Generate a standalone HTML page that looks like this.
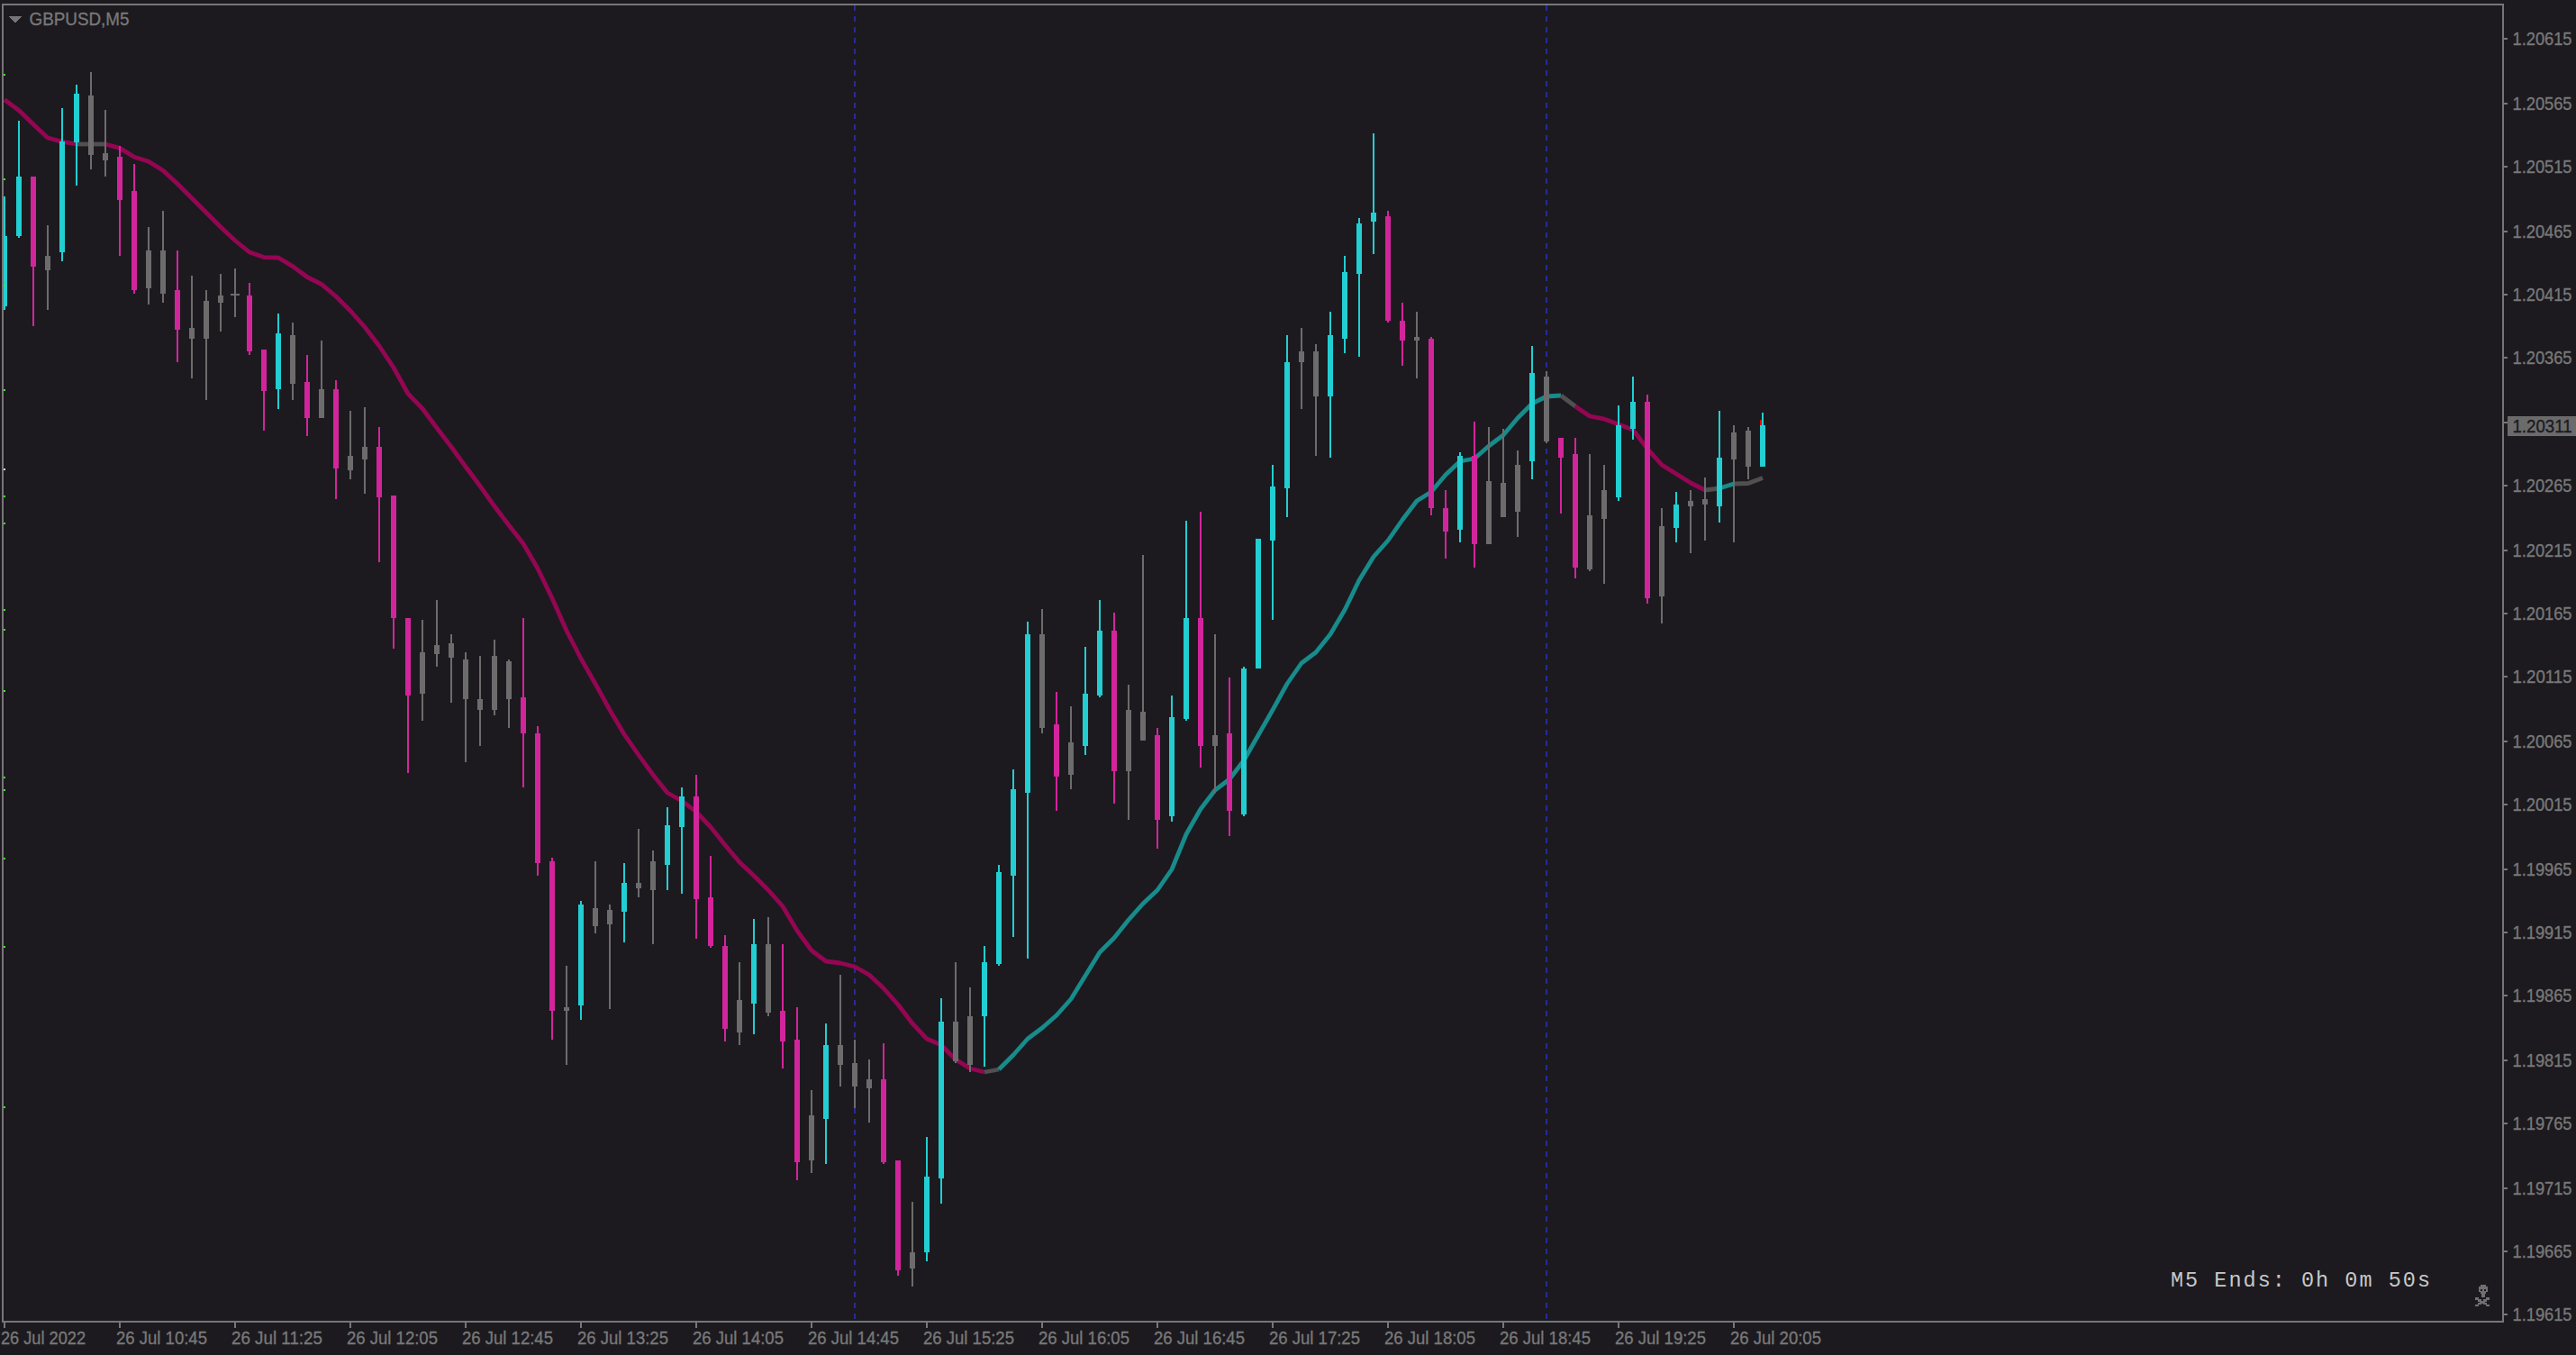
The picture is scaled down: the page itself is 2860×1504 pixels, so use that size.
<!DOCTYPE html><html><head><meta charset="utf-8"><title>GBPUSD,M5</title>
<style>html,body{margin:0;padding:0;background:#1C1A1F;overflow:hidden}svg{display:block}text{font-family:"Liberation Sans",sans-serif;font-size:20px;fill:#787878;stroke:#787878;stroke-width:0.35px}.mono{font-family:"Liberation Mono",monospace;font-size:23.5px;fill:#C8C8C8;stroke:none}</style></head><body>
<svg width="2860" height="1504" viewBox="0 0 2860 1504">
<rect width="2860" height="1504" fill="#1C1A1F"/>
<defs><clipPath id="cp"><rect x="4" y="6" width="2774" height="1460"/></clipPath></defs>
<g clip-path="url(#cp)" shape-rendering="crispEdges">
<line x1="949" y1="6" x2="949" y2="1466" stroke="#262B96" stroke-width="2" stroke-dasharray="6 6"/>
<line x1="1717" y1="6" x2="1717" y2="1466" stroke="#262B96" stroke-width="2" stroke-dasharray="6 6"/>
</g>
<g clip-path="url(#cp)" fill="none" stroke-width="4.8" stroke-linejoin="round" stroke-linecap="butt">
<polyline points="5,110.7 21,122.5 37,138.0 53,153.0 69,157.4 85,160.0" stroke="#940652"/>
<polyline points="85,160.0 101,160.0 117,160.0" stroke="#505050"/>
<polyline points="117,160.0 133,164.4 149,174.3 165,179.3 181,189.2 197,204.0 213,220.0 229,236.0 245,252.0 261,267.0 277,280.0 293,285.6 309,286.0 325,295.6 341,307.5 357,315.5 373,329.0 389,345.0 405,363.0 421,384.0 437,408.0 453,437.0 469,453.5 485,475.0 501,496.0 517,518.0 533,539.5 549,562.0 565,583.0 581,603.5 597,631.0 613,664.0 629,700.0 645,731.0 661,759.0 677,788.0 693,815.0 709,838.0 725,860.0 741,880.0 757,889.0 773,901.0 789,918.0 805,938.0 821,957.0 837,972.0 853,988.0 869,1006.0 885,1033.0 901,1055.0 917,1067.0 933,1069.0 949,1073.0 965,1082.0 981,1097.0 997,1115.0 1013,1136.0 1029,1153.0 1045,1160.0 1061,1176.0 1077,1186.0 1093,1190.0" stroke="#940652"/>
<polyline points="1093,1190.0 1109,1187.0" stroke="#505050"/>
<polyline points="1109,1187.0 1125,1171.0 1141,1153.0 1157,1141.0 1173,1127.0 1189,1109.0 1205,1083.0 1221,1057.0 1237,1041.0 1253,1021.0 1269,1003.0 1285,988.0 1301,965.0 1317,926.0 1333,898.0 1349,877.0 1365,865.0 1381,844.0 1397,816.0 1413,788.0 1429,759.0 1445,736.0 1461,724.0 1477,704.0 1493,677.0 1509,644.0 1525,618.0 1541,600.0 1557,577.0 1573,556.0 1589,546.0 1605,527.0 1621,512.0 1637,509.0 1653,495.0 1669,483.0 1685,464.0 1701,448.0 1717,440.0 1733,439.0" stroke="#188B8B"/>
<polyline points="1733,439.0 1749,451.0" stroke="#505050"/>
<polyline points="1749,451.0 1765,462.0 1781,465.0 1797,471.0 1813,477.0 1829,498.0 1845,516.0 1861,526.0 1877,536.0 1893,544.0" stroke="#940652"/>
<polyline points="1893,544.0 1909,542.0" stroke="#505050"/>
<polyline points="1909,542.0 1925,537.0" stroke="#188B8B"/>
<polyline points="1925,537.0 1941,536.5 1957,530.5" stroke="#505050"/>
</g>
<g clip-path="url(#cp)" shape-rendering="crispEdges">
<rect x="4" y="218" width="2" height="126" fill="#22CED1"/>
<rect x="2" y="262" width="6" height="78" fill="#22CED1"/>
<rect x="20" y="134" width="2" height="130" fill="#22CED1"/>
<rect x="18" y="196" width="6" height="66" fill="#22CED1"/>
<rect x="36" y="196" width="2" height="166" fill="#D2259B"/>
<rect x="34" y="196" width="6" height="100" fill="#D2259B"/>
<rect x="52" y="250" width="2" height="94" fill="#6C6C6C"/>
<rect x="50" y="284" width="6" height="16" fill="#6C6C6C"/>
<rect x="68" y="120" width="2" height="170" fill="#22CED1"/>
<rect x="66" y="157" width="6" height="123" fill="#22CED1"/>
<rect x="84" y="94" width="2" height="112" fill="#22CED1"/>
<rect x="82" y="104" width="6" height="54" fill="#22CED1"/>
<rect x="100" y="80" width="2" height="108" fill="#6C6C6C"/>
<rect x="98" y="106" width="6" height="66" fill="#6C6C6C"/>
<rect x="116" y="122" width="2" height="74" fill="#6C6C6C"/>
<rect x="114" y="170" width="6" height="8" fill="#6C6C6C"/>
<rect x="132" y="162" width="2" height="122" fill="#D2259B"/>
<rect x="130" y="174" width="6" height="48" fill="#D2259B"/>
<rect x="148" y="182" width="2" height="144" fill="#D2259B"/>
<rect x="146" y="212" width="6" height="110" fill="#D2259B"/>
<rect x="164" y="252" width="2" height="86" fill="#6C6C6C"/>
<rect x="162" y="278" width="6" height="42" fill="#6C6C6C"/>
<rect x="180" y="234" width="2" height="102" fill="#6C6C6C"/>
<rect x="178" y="278" width="6" height="48" fill="#6C6C6C"/>
<rect x="196" y="278" width="2" height="124" fill="#D2259B"/>
<rect x="194" y="322" width="6" height="44" fill="#D2259B"/>
<rect x="212" y="306" width="2" height="114" fill="#6C6C6C"/>
<rect x="210" y="364" width="6" height="12" fill="#6C6C6C"/>
<rect x="228" y="322" width="2" height="122" fill="#6C6C6C"/>
<rect x="226" y="334" width="6" height="42" fill="#6C6C6C"/>
<rect x="244" y="304" width="2" height="64" fill="#6C6C6C"/>
<rect x="242" y="328" width="6" height="8" fill="#6C6C6C"/>
<rect x="260" y="298" width="2" height="54" fill="#6C6C6C"/>
<rect x="256" y="326" width="10" height="2" fill="#6C6C6C"/>
<rect x="276" y="314" width="2" height="80" fill="#D2259B"/>
<rect x="274" y="328" width="6" height="62" fill="#D2259B"/>
<rect x="292" y="388" width="2" height="90" fill="#D2259B"/>
<rect x="290" y="388" width="6" height="46" fill="#D2259B"/>
<rect x="308" y="348" width="2" height="106" fill="#22CED1"/>
<rect x="306" y="370" width="6" height="62" fill="#22CED1"/>
<rect x="324" y="358" width="2" height="86" fill="#6C6C6C"/>
<rect x="322" y="372" width="6" height="54" fill="#6C6C6C"/>
<rect x="340" y="394" width="2" height="90" fill="#D2259B"/>
<rect x="338" y="424" width="6" height="40" fill="#D2259B"/>
<rect x="356" y="378" width="2" height="86" fill="#6C6C6C"/>
<rect x="354" y="432" width="6" height="32" fill="#6C6C6C"/>
<rect x="372" y="422" width="2" height="132" fill="#D2259B"/>
<rect x="370" y="432" width="6" height="88" fill="#D2259B"/>
<rect x="388" y="456" width="2" height="76" fill="#6C6C6C"/>
<rect x="386" y="506" width="6" height="16" fill="#6C6C6C"/>
<rect x="404" y="452" width="2" height="96" fill="#6C6C6C"/>
<rect x="402" y="496" width="6" height="14" fill="#6C6C6C"/>
<rect x="420" y="474" width="2" height="150" fill="#D2259B"/>
<rect x="418" y="496" width="6" height="56" fill="#D2259B"/>
<rect x="436" y="550" width="2" height="170" fill="#D2259B"/>
<rect x="434" y="550" width="6" height="136" fill="#D2259B"/>
<rect x="452" y="686" width="2" height="172" fill="#D2259B"/>
<rect x="450" y="686" width="6" height="86" fill="#D2259B"/>
<rect x="468" y="688" width="2" height="112" fill="#6C6C6C"/>
<rect x="466" y="724" width="6" height="46" fill="#6C6C6C"/>
<rect x="484" y="666" width="2" height="74" fill="#6C6C6C"/>
<rect x="482" y="716" width="6" height="10" fill="#6C6C6C"/>
<rect x="500" y="704" width="2" height="76" fill="#6C6C6C"/>
<rect x="498" y="714" width="6" height="16" fill="#6C6C6C"/>
<rect x="516" y="724" width="2" height="122" fill="#6C6C6C"/>
<rect x="514" y="732" width="6" height="44" fill="#6C6C6C"/>
<rect x="532" y="728" width="2" height="100" fill="#6C6C6C"/>
<rect x="530" y="776" width="6" height="12" fill="#6C6C6C"/>
<rect x="548" y="710" width="2" height="84" fill="#6C6C6C"/>
<rect x="546" y="728" width="6" height="60" fill="#6C6C6C"/>
<rect x="564" y="732" width="2" height="76" fill="#6C6C6C"/>
<rect x="562" y="734" width="6" height="42" fill="#6C6C6C"/>
<rect x="580" y="686" width="2" height="188" fill="#D2259B"/>
<rect x="578" y="774" width="6" height="40" fill="#D2259B"/>
<rect x="596" y="806" width="2" height="166" fill="#D2259B"/>
<rect x="594" y="814" width="6" height="144" fill="#D2259B"/>
<rect x="612" y="952" width="2" height="202" fill="#D2259B"/>
<rect x="610" y="956" width="6" height="166" fill="#D2259B"/>
<rect x="628" y="1072" width="2" height="110" fill="#6C6C6C"/>
<rect x="626" y="1118" width="6" height="4" fill="#6C6C6C"/>
<rect x="644" y="1000" width="2" height="132" fill="#22CED1"/>
<rect x="642" y="1004" width="6" height="112" fill="#22CED1"/>
<rect x="660" y="956" width="2" height="80" fill="#6C6C6C"/>
<rect x="658" y="1008" width="6" height="20" fill="#6C6C6C"/>
<rect x="676" y="1004" width="2" height="116" fill="#6C6C6C"/>
<rect x="674" y="1010" width="6" height="16" fill="#6C6C6C"/>
<rect x="692" y="958" width="2" height="88" fill="#22CED1"/>
<rect x="690" y="980" width="6" height="32" fill="#22CED1"/>
<rect x="708" y="920" width="2" height="76" fill="#6C6C6C"/>
<rect x="706" y="980" width="6" height="6" fill="#6C6C6C"/>
<rect x="724" y="944" width="2" height="104" fill="#6C6C6C"/>
<rect x="722" y="956" width="6" height="32" fill="#6C6C6C"/>
<rect x="740" y="896" width="2" height="92" fill="#22CED1"/>
<rect x="738" y="916" width="6" height="44" fill="#22CED1"/>
<rect x="756" y="874" width="2" height="118" fill="#22CED1"/>
<rect x="754" y="884" width="6" height="34" fill="#22CED1"/>
<rect x="772" y="860" width="2" height="182" fill="#D2259B"/>
<rect x="770" y="884" width="6" height="114" fill="#D2259B"/>
<rect x="788" y="950" width="2" height="102" fill="#D2259B"/>
<rect x="786" y="996" width="6" height="54" fill="#D2259B"/>
<rect x="804" y="1038" width="2" height="118" fill="#D2259B"/>
<rect x="802" y="1050" width="6" height="92" fill="#D2259B"/>
<rect x="820" y="1068" width="2" height="92" fill="#6C6C6C"/>
<rect x="818" y="1110" width="6" height="36" fill="#6C6C6C"/>
<rect x="836" y="1020" width="2" height="128" fill="#22CED1"/>
<rect x="834" y="1048" width="6" height="66" fill="#22CED1"/>
<rect x="852" y="1018" width="2" height="110" fill="#6C6C6C"/>
<rect x="850" y="1048" width="6" height="76" fill="#6C6C6C"/>
<rect x="868" y="1048" width="2" height="138" fill="#D2259B"/>
<rect x="866" y="1122" width="6" height="34" fill="#D2259B"/>
<rect x="884" y="1118" width="2" height="192" fill="#D2259B"/>
<rect x="882" y="1154" width="6" height="136" fill="#D2259B"/>
<rect x="900" y="1210" width="2" height="92" fill="#6C6C6C"/>
<rect x="898" y="1238" width="6" height="50" fill="#6C6C6C"/>
<rect x="916" y="1136" width="2" height="156" fill="#22CED1"/>
<rect x="914" y="1160" width="6" height="82" fill="#22CED1"/>
<rect x="932" y="1082" width="2" height="124" fill="#6C6C6C"/>
<rect x="930" y="1160" width="6" height="22" fill="#6C6C6C"/>
<rect x="948" y="1154" width="2" height="76" fill="#6C6C6C"/>
<rect x="946" y="1180" width="6" height="26" fill="#6C6C6C"/>
<rect x="964" y="1176" width="2" height="70" fill="#6C6C6C"/>
<rect x="962" y="1198" width="6" height="10" fill="#6C6C6C"/>
<rect x="980" y="1158" width="2" height="134" fill="#D2259B"/>
<rect x="978" y="1198" width="6" height="92" fill="#D2259B"/>
<rect x="996" y="1288" width="2" height="128" fill="#D2259B"/>
<rect x="994" y="1288" width="6" height="122" fill="#D2259B"/>
<rect x="1012" y="1334" width="2" height="94" fill="#6C6C6C"/>
<rect x="1010" y="1390" width="6" height="18" fill="#6C6C6C"/>
<rect x="1028" y="1262" width="2" height="138" fill="#22CED1"/>
<rect x="1026" y="1306" width="6" height="84" fill="#22CED1"/>
<rect x="1044" y="1108" width="2" height="228" fill="#22CED1"/>
<rect x="1042" y="1134" width="6" height="174" fill="#22CED1"/>
<rect x="1060" y="1068" width="2" height="112" fill="#6C6C6C"/>
<rect x="1058" y="1134" width="6" height="44" fill="#6C6C6C"/>
<rect x="1076" y="1096" width="2" height="94" fill="#6C6C6C"/>
<rect x="1074" y="1128" width="6" height="54" fill="#6C6C6C"/>
<rect x="1092" y="1050" width="2" height="134" fill="#22CED1"/>
<rect x="1090" y="1068" width="6" height="60" fill="#22CED1"/>
<rect x="1108" y="960" width="2" height="112" fill="#22CED1"/>
<rect x="1106" y="968" width="6" height="102" fill="#22CED1"/>
<rect x="1124" y="854" width="2" height="186" fill="#22CED1"/>
<rect x="1122" y="876" width="6" height="96" fill="#22CED1"/>
<rect x="1140" y="690" width="2" height="374" fill="#22CED1"/>
<rect x="1138" y="704" width="6" height="176" fill="#22CED1"/>
<rect x="1156" y="676" width="2" height="138" fill="#6C6C6C"/>
<rect x="1154" y="704" width="6" height="104" fill="#6C6C6C"/>
<rect x="1172" y="768" width="2" height="132" fill="#D2259B"/>
<rect x="1170" y="804" width="6" height="58" fill="#D2259B"/>
<rect x="1188" y="784" width="2" height="92" fill="#6C6C6C"/>
<rect x="1186" y="824" width="6" height="36" fill="#6C6C6C"/>
<rect x="1204" y="718" width="2" height="120" fill="#22CED1"/>
<rect x="1202" y="770" width="6" height="58" fill="#22CED1"/>
<rect x="1220" y="666" width="2" height="108" fill="#22CED1"/>
<rect x="1218" y="700" width="6" height="72" fill="#22CED1"/>
<rect x="1236" y="680" width="2" height="212" fill="#D2259B"/>
<rect x="1234" y="700" width="6" height="156" fill="#D2259B"/>
<rect x="1252" y="760" width="2" height="150" fill="#6C6C6C"/>
<rect x="1250" y="788" width="6" height="68" fill="#6C6C6C"/>
<rect x="1268" y="616" width="2" height="206" fill="#6C6C6C"/>
<rect x="1266" y="790" width="6" height="32" fill="#6C6C6C"/>
<rect x="1284" y="808" width="2" height="134" fill="#D2259B"/>
<rect x="1282" y="816" width="6" height="94" fill="#D2259B"/>
<rect x="1300" y="772" width="2" height="140" fill="#22CED1"/>
<rect x="1298" y="796" width="6" height="110" fill="#22CED1"/>
<rect x="1316" y="578" width="2" height="222" fill="#22CED1"/>
<rect x="1314" y="686" width="6" height="112" fill="#22CED1"/>
<rect x="1332" y="568" width="2" height="284" fill="#D2259B"/>
<rect x="1330" y="686" width="6" height="142" fill="#D2259B"/>
<rect x="1348" y="704" width="2" height="176" fill="#6C6C6C"/>
<rect x="1346" y="816" width="6" height="12" fill="#6C6C6C"/>
<rect x="1364" y="752" width="2" height="176" fill="#D2259B"/>
<rect x="1362" y="814" width="6" height="86" fill="#D2259B"/>
<rect x="1380" y="740" width="2" height="166" fill="#22CED1"/>
<rect x="1378" y="742" width="6" height="162" fill="#22CED1"/>
<rect x="1396" y="598" width="2" height="144" fill="#22CED1"/>
<rect x="1394" y="598" width="6" height="144" fill="#22CED1"/>
<rect x="1412" y="516" width="2" height="172" fill="#22CED1"/>
<rect x="1410" y="540" width="6" height="60" fill="#22CED1"/>
<rect x="1428" y="372" width="2" height="202" fill="#22CED1"/>
<rect x="1426" y="402" width="6" height="140" fill="#22CED1"/>
<rect x="1444" y="364" width="2" height="90" fill="#6C6C6C"/>
<rect x="1442" y="390" width="6" height="12" fill="#6C6C6C"/>
<rect x="1460" y="382" width="2" height="124" fill="#6C6C6C"/>
<rect x="1458" y="390" width="6" height="50" fill="#6C6C6C"/>
<rect x="1476" y="346" width="2" height="162" fill="#22CED1"/>
<rect x="1474" y="372" width="6" height="68" fill="#22CED1"/>
<rect x="1492" y="284" width="2" height="108" fill="#22CED1"/>
<rect x="1490" y="302" width="6" height="74" fill="#22CED1"/>
<rect x="1508" y="242" width="2" height="154" fill="#22CED1"/>
<rect x="1506" y="248" width="6" height="56" fill="#22CED1"/>
<rect x="1524" y="148" width="2" height="134" fill="#22CED1"/>
<rect x="1522" y="236" width="6" height="10" fill="#22CED1"/>
<rect x="1540" y="234" width="2" height="124" fill="#D2259B"/>
<rect x="1538" y="240" width="6" height="116" fill="#D2259B"/>
<rect x="1556" y="336" width="2" height="70" fill="#D2259B"/>
<rect x="1554" y="356" width="6" height="22" fill="#D2259B"/>
<rect x="1572" y="346" width="2" height="74" fill="#6C6C6C"/>
<rect x="1570" y="374" width="6" height="4" fill="#6C6C6C"/>
<rect x="1588" y="374" width="2" height="198" fill="#D2259B"/>
<rect x="1586" y="376" width="6" height="188" fill="#D2259B"/>
<rect x="1604" y="544" width="2" height="76" fill="#D2259B"/>
<rect x="1602" y="564" width="6" height="26" fill="#D2259B"/>
<rect x="1620" y="502" width="2" height="100" fill="#22CED1"/>
<rect x="1618" y="506" width="6" height="82" fill="#22CED1"/>
<rect x="1636" y="468" width="2" height="162" fill="#D2259B"/>
<rect x="1634" y="506" width="6" height="98" fill="#D2259B"/>
<rect x="1652" y="474" width="2" height="130" fill="#6C6C6C"/>
<rect x="1650" y="534" width="6" height="70" fill="#6C6C6C"/>
<rect x="1668" y="476" width="2" height="98" fill="#6C6C6C"/>
<rect x="1666" y="536" width="6" height="38" fill="#6C6C6C"/>
<rect x="1684" y="500" width="2" height="96" fill="#6C6C6C"/>
<rect x="1682" y="516" width="6" height="52" fill="#6C6C6C"/>
<rect x="1700" y="384" width="2" height="148" fill="#22CED1"/>
<rect x="1698" y="414" width="6" height="98" fill="#22CED1"/>
<rect x="1716" y="412" width="2" height="80" fill="#6C6C6C"/>
<rect x="1714" y="418" width="6" height="72" fill="#6C6C6C"/>
<rect x="1732" y="486" width="2" height="84" fill="#D2259B"/>
<rect x="1730" y="486" width="6" height="22" fill="#D2259B"/>
<rect x="1748" y="486" width="2" height="156" fill="#D2259B"/>
<rect x="1746" y="504" width="6" height="126" fill="#D2259B"/>
<rect x="1764" y="504" width="2" height="130" fill="#6C6C6C"/>
<rect x="1762" y="572" width="6" height="60" fill="#6C6C6C"/>
<rect x="1780" y="516" width="2" height="132" fill="#6C6C6C"/>
<rect x="1778" y="544" width="6" height="32" fill="#6C6C6C"/>
<rect x="1796" y="450" width="2" height="106" fill="#22CED1"/>
<rect x="1794" y="472" width="6" height="80" fill="#22CED1"/>
<rect x="1812" y="418" width="2" height="70" fill="#22CED1"/>
<rect x="1810" y="446" width="6" height="30" fill="#22CED1"/>
<rect x="1828" y="438" width="2" height="232" fill="#D2259B"/>
<rect x="1826" y="446" width="6" height="218" fill="#D2259B"/>
<rect x="1844" y="564" width="2" height="128" fill="#6C6C6C"/>
<rect x="1842" y="584" width="6" height="78" fill="#6C6C6C"/>
<rect x="1860" y="546" width="2" height="56" fill="#22CED1"/>
<rect x="1858" y="560" width="6" height="26" fill="#22CED1"/>
<rect x="1876" y="544" width="2" height="70" fill="#6C6C6C"/>
<rect x="1874" y="556" width="6" height="6" fill="#6C6C6C"/>
<rect x="1892" y="530" width="2" height="70" fill="#6C6C6C"/>
<rect x="1890" y="554" width="6" height="6" fill="#6C6C6C"/>
<rect x="1908" y="456" width="2" height="124" fill="#22CED1"/>
<rect x="1906" y="508" width="6" height="54" fill="#22CED1"/>
<rect x="1924" y="472" width="2" height="130" fill="#6C6C6C"/>
<rect x="1922" y="480" width="6" height="30" fill="#6C6C6C"/>
<rect x="1940" y="474" width="2" height="58" fill="#6C6C6C"/>
<rect x="1938" y="478" width="6" height="40" fill="#6C6C6C"/>
<rect x="1956" y="458" width="2" height="60" fill="#22CED1"/>
<rect x="1954" y="472" width="6" height="46" fill="#22CED1"/>
<rect x="4" y="82" width="2" height="2" fill="#3CF028"/>
<rect x="4" y="198" width="2" height="2" fill="#3CF028"/>
<rect x="4" y="316" width="2" height="2" fill="#3CF028"/>
<rect x="4" y="432" width="2" height="2" fill="#3CF028"/>
<rect x="4" y="550" width="2" height="2" fill="#3CF028"/>
<rect x="4" y="580" width="2" height="2" fill="#3CF028"/>
<rect x="4" y="676" width="2" height="2" fill="#3CF028"/>
<rect x="4" y="698" width="2" height="2" fill="#3CF028"/>
<rect x="4" y="766" width="2" height="2" fill="#3CF028"/>
<rect x="4" y="862" width="2" height="2" fill="#3CF028"/>
<rect x="4" y="876" width="2" height="2" fill="#3CF028"/>
<rect x="4" y="952" width="2" height="2" fill="#3CF028"/>
<rect x="4" y="1050" width="2" height="2" fill="#3CF028"/>
<rect x="4" y="1228" width="2" height="2" fill="#3CF028"/>
<rect x="4" y="520" width="2" height="2" fill="#DDD"/>
<rect x="1954" y="466" width="2" height="6" fill="#FF0000"/>
</g>
<g shape-rendering="crispEdges" fill="#767676">
<rect x="2" y="4" width="2778" height="2"/>
<rect x="2" y="4" width="2" height="1464"/>
<rect x="2" y="1466" width="2778" height="2"/>
<rect x="2778" y="4" width="2" height="1464"/>
<rect x="2780" y="42" width="4" height="2"/>
<rect x="2780" y="114" width="4" height="2"/>
<rect x="2780" y="184" width="4" height="2"/>
<rect x="2780" y="256" width="4" height="2"/>
<rect x="2780" y="326" width="4" height="2"/>
<rect x="2780" y="396" width="4" height="2"/>
<rect x="2780" y="468" width="4" height="2"/>
<rect x="2780" y="538" width="4" height="2"/>
<rect x="2780" y="610" width="4" height="2"/>
<rect x="2780" y="680" width="4" height="2"/>
<rect x="2780" y="750" width="4" height="2"/>
<rect x="2780" y="822" width="4" height="2"/>
<rect x="2780" y="892" width="4" height="2"/>
<rect x="2780" y="964" width="4" height="2"/>
<rect x="2780" y="1034" width="4" height="2"/>
<rect x="2780" y="1104" width="4" height="2"/>
<rect x="2780" y="1176" width="4" height="2"/>
<rect x="2780" y="1246" width="4" height="2"/>
<rect x="2780" y="1318" width="4" height="2"/>
<rect x="2780" y="1388" width="4" height="2"/>
<rect x="2780" y="1458" width="4" height="2"/>
<rect x="4" y="1468" width="2" height="6"/>
<rect x="132" y="1468" width="2" height="6"/>
<rect x="260" y="1468" width="2" height="6"/>
<rect x="388" y="1468" width="2" height="6"/>
<rect x="516" y="1468" width="2" height="6"/>
<rect x="644" y="1468" width="2" height="6"/>
<rect x="772" y="1468" width="2" height="6"/>
<rect x="900" y="1468" width="2" height="6"/>
<rect x="1028" y="1468" width="2" height="6"/>
<rect x="1156" y="1468" width="2" height="6"/>
<rect x="1284" y="1468" width="2" height="6"/>
<rect x="1412" y="1468" width="2" height="6"/>
<rect x="1540" y="1468" width="2" height="6"/>
<rect x="1668" y="1468" width="2" height="6"/>
<rect x="1796" y="1468" width="2" height="6"/>
<rect x="1924" y="1468" width="2" height="6"/>
<rect x="2780" y="468" width="4" height="2"/>
<rect x="2784" y="462" width="76" height="22" fill="#6B6B6B"/>
<path d="M10 18H24L17 26Z"/>
</g>
<text x="2789.5" y="50" textLength="66" lengthAdjust="spacingAndGlyphs">1.20615</text>
<text x="2789.5" y="122" textLength="66" lengthAdjust="spacingAndGlyphs">1.20565</text>
<text x="2789.5" y="192" textLength="66" lengthAdjust="spacingAndGlyphs">1.20515</text>
<text x="2789.5" y="264" textLength="66" lengthAdjust="spacingAndGlyphs">1.20465</text>
<text x="2789.5" y="334" textLength="66" lengthAdjust="spacingAndGlyphs">1.20415</text>
<text x="2789.5" y="404" textLength="66" lengthAdjust="spacingAndGlyphs">1.20365</text>
<text x="2789.5" y="546" textLength="66" lengthAdjust="spacingAndGlyphs">1.20265</text>
<text x="2789.5" y="618" textLength="66" lengthAdjust="spacingAndGlyphs">1.20215</text>
<text x="2789.5" y="688" textLength="66" lengthAdjust="spacingAndGlyphs">1.20165</text>
<text x="2789.5" y="758" textLength="66" lengthAdjust="spacingAndGlyphs">1.20115</text>
<text x="2789.5" y="830" textLength="66" lengthAdjust="spacingAndGlyphs">1.20065</text>
<text x="2789.5" y="900" textLength="66" lengthAdjust="spacingAndGlyphs">1.20015</text>
<text x="2789.5" y="972" textLength="66" lengthAdjust="spacingAndGlyphs">1.19965</text>
<text x="2789.5" y="1042" textLength="66" lengthAdjust="spacingAndGlyphs">1.19915</text>
<text x="2789.5" y="1112" textLength="66" lengthAdjust="spacingAndGlyphs">1.19865</text>
<text x="2789.5" y="1184" textLength="66" lengthAdjust="spacingAndGlyphs">1.19815</text>
<text x="2789.5" y="1254" textLength="66" lengthAdjust="spacingAndGlyphs">1.19765</text>
<text x="2789.5" y="1326" textLength="66" lengthAdjust="spacingAndGlyphs">1.19715</text>
<text x="2789.5" y="1396" textLength="66" lengthAdjust="spacingAndGlyphs">1.19665</text>
<text x="2789.5" y="1466" textLength="66" lengthAdjust="spacingAndGlyphs">1.19615</text>
<text x="2789.5" y="480" textLength="66" lengthAdjust="spacingAndGlyphs" style="fill:#1C1A1F;stroke:#1C1A1F">1.20311</text>
<text x="1" y="1492" textLength="94" lengthAdjust="spacingAndGlyphs">26 Jul 2022</text>
<text x="129" y="1492" textLength="101" lengthAdjust="spacingAndGlyphs">26 Jul 10:45</text>
<text x="257" y="1492" textLength="101" lengthAdjust="spacingAndGlyphs">26 Jul 11:25</text>
<text x="385" y="1492" textLength="101" lengthAdjust="spacingAndGlyphs">26 Jul 12:05</text>
<text x="513" y="1492" textLength="101" lengthAdjust="spacingAndGlyphs">26 Jul 12:45</text>
<text x="641" y="1492" textLength="101" lengthAdjust="spacingAndGlyphs">26 Jul 13:25</text>
<text x="769" y="1492" textLength="101" lengthAdjust="spacingAndGlyphs">26 Jul 14:05</text>
<text x="897" y="1492" textLength="101" lengthAdjust="spacingAndGlyphs">26 Jul 14:45</text>
<text x="1025" y="1492" textLength="101" lengthAdjust="spacingAndGlyphs">26 Jul 15:25</text>
<text x="1153" y="1492" textLength="101" lengthAdjust="spacingAndGlyphs">26 Jul 16:05</text>
<text x="1281" y="1492" textLength="101" lengthAdjust="spacingAndGlyphs">26 Jul 16:45</text>
<text x="1409" y="1492" textLength="101" lengthAdjust="spacingAndGlyphs">26 Jul 17:25</text>
<text x="1537" y="1492" textLength="101" lengthAdjust="spacingAndGlyphs">26 Jul 18:05</text>
<text x="1665" y="1492" textLength="101" lengthAdjust="spacingAndGlyphs">26 Jul 18:45</text>
<text x="1793" y="1492" textLength="101" lengthAdjust="spacingAndGlyphs">26 Jul 19:25</text>
<text x="1921" y="1492" textLength="101" lengthAdjust="spacingAndGlyphs">26 Jul 20:05</text>
<text x="32.5" y="28" textLength="111" lengthAdjust="spacingAndGlyphs">GBPUSD,M5</text>
<text class="mono" x="2410" y="1427.5" textLength="288" lengthAdjust="spacing" xml:space="preserve">M5 Ends: 0h 0m 50s</text>
<g fill="#707070" shape-rendering="crispEdges"><path d="M2754 1426h6v2h2v6h-2v2h-1v4h-4v-4h-1v-2h-2v-6h2z"/><path d="M2748 1440h4v2h3v2h2v-2h3v-2h4v3h-3v2h-2v1h2v2h3v2h-4v-2h-3v-1h-2v1h-3v2h-4v-2h3v-2h2v-1h-2v-2h-3z"/><rect x="2754" y="1431" width="2" height="2" fill="#1C1A1F"/><rect x="2758" y="1431" width="2" height="2" fill="#1C1A1F"/></g>
</svg></body></html>
